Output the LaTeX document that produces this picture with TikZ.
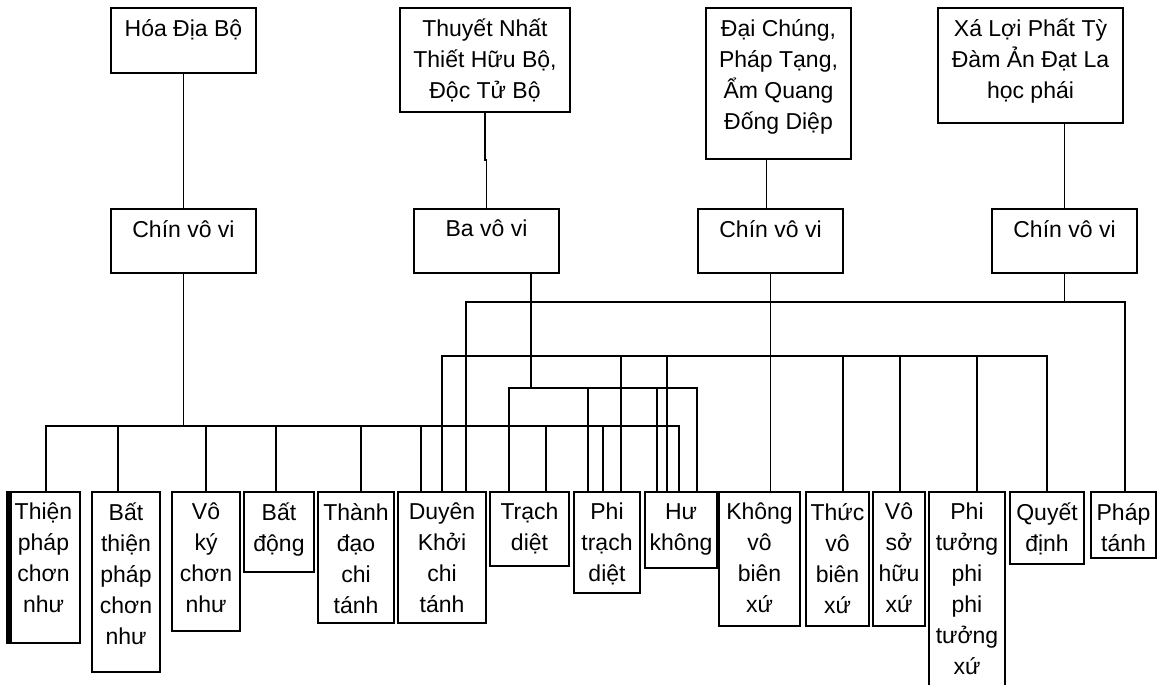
\documentclass[tikz,border=0pt]{standalone}
\usepackage{fontspec}
\setmainfont{Liberation Sans}
\begin{document}
\begin{tikzpicture}[
    x=1pt, y=-1pt,
    every node/.style={font=\fontsize{23}{31}\selectfont},
    box/.style={draw, line width=1.5pt, anchor=north west, inner sep=0pt, outer sep=0pt},
    txt/.style={anchor=north, align=center, inner sep=0pt, yshift=-11pt},
    link/.style={line width=1.5pt}
]
\useasboundingbox (0,0) rectangle (1159,685);
\clip (0,0) rectangle (1159,685);

% Schools
\node[box, minimum width=145pt, minimum height=65pt] (hoa) at (111,8) {};
\node[txt] (hoa-t) at (hoa.north) {Hóa Địa Bộ};
\node[box, minimum width=170pt, minimum height=104pt] (thuyet) at (400,8) {};
\node[txt] (thuyet-t) at (thuyet.north) {Thuyết Nhất\\Thiết Hữu Bộ,\\Độc Tử Bộ};
\node[box, minimum width=145pt, minimum height=151pt] (daichung) at (706,8) {};
\node[txt] (daichung-t) at (daichung.north) {Đại Chúng,\\Pháp Tạng,\\Ẩm Quang\\Đống Diệp};
\node[box, minimum width=185pt, minimum height=115pt] (xaloi) at (938,8) {};
\node[txt] (xaloi-t) at (xaloi.north) {Xá Lợi Phất Tỳ\\Đàm Ản Đạt La\\học phái};

% Counts
\node[box, minimum width=145pt, minimum height=64pt] (chin1) at (111,209) {};
\node[txt] (chin1-t) at (chin1.north) {Chín vô vi};
\node[box, minimum width=145pt, minimum height=64pt] (bavovi) at (414,209) {};
\node[txt] (bavovi-t) at (bavovi.north) {Ba vô vi};
\node[box, minimum width=145pt, minimum height=64pt] (chin2) at (698,209) {};
\node[txt] (chin2-t) at (chin2.north) {Chín vô vi};
\node[box, minimum width=145pt, minimum height=64pt] (chin3) at (992,209) {};
\node[txt] (chin3-t) at (chin3.north) {Chín vô vi};

% Unconditioned dharmas
\node[box, minimum width=73pt, minimum height=151pt] (thien) at (7,492) {};
\node[txt] (thien-t) at (thien.north) {Thiện\\pháp\\chơn\\như};
\node[box, minimum width=68pt, minimum height=180pt] (batthien) at (92,492) {};
\node[txt] (batthien-t) at (batthien.north) {Bất\\thiện\\pháp\\chơn\\như};
\node[box, minimum width=68pt, minimum height=139pt] (voky) at (172,492) {};
\node[txt] (voky-t) at (voky.north) {Vô\\ký\\chơn\\như};
\node[box, minimum width=70pt, minimum height=80pt] (batdong) at (244,492) {};
\node[txt] (batdong-t) at (batdong.north) {Bất\\động};
\node[box, minimum width=76pt, minimum height=131pt] (thanhdao) at (318,492) {};
\node[txt] (thanhdao-t) at (thanhdao.north) {Thành\\đạo\\chi\\tánh};
\node[box, minimum width=88pt, minimum height=131pt] (duyenkhoi) at (398,492) {};
\node[txt] (duyenkhoi-t) at (duyenkhoi.north) {Duyên\\Khởi\\chi\\tánh};
\node[box, minimum width=79pt, minimum height=74pt] (trachdiet) at (490,492) {};
\node[txt] (trachdiet-t) at (trachdiet.north) {Trạch\\diệt};
\node[box, minimum width=66pt, minimum height=101pt] (phitrach) at (574,492) {};
\node[txt] (phitrach-t) at (phitrach.north) {Phi\\trạch\\diệt};
\node[box, minimum width=72pt, minimum height=76pt] (hukhong) at (645,492) {};
\node[txt] (hukhong-t) at (hukhong.north) {Hư\\không};
\node[box, minimum width=81pt, minimum height=134pt] (khongvobien) at (719,492) {};
\node[txt] (khongvobien-t) at (khongvobien.north) {Không\\vô\\biên\\xứ};
\node[box, minimum width=63pt, minimum height=134pt] (thucvobien) at (806,492) {};
\node[txt] (thucvobien-t) at (thucvobien.north) {Thức\\vô\\biên\\xứ};
\node[box, minimum width=52pt, minimum height=134pt] (vosohuu) at (873,492) {};
\node[txt] (vosohuu-t) at (vosohuu.north) {Vô\\sở\\hữu\\xứ};
\node[box, minimum width=76pt, minimum height=210pt] (phituong) at (929,492) {};
\node[txt] (phituong-t) at (phituong.north) {Phi\\tưởng\\phi\\phi\\tưởng\\xứ};
\node[box, minimum width=74pt, minimum height=72pt] (quyetdinh) at (1010,492) {};
\node[txt] (quyetdinh-t) at (quyetdinh.north) {Quyết\\định};
\node[box, minimum width=65pt, minimum height=66pt] (phaptanh) at (1091,492) {};
\node[txt] (phaptanh-t) at (phaptanh.north) {Pháp\\tánh};
\fill (thien.north west) rectangle ([xshift=5pt]thien.south west);

% Schools to counts
\coordinate (dc) at ([xshift=-12pt]daichung.south);
\draw[link] (hoa.south) -- (chin1.north);
\draw[link] (thuyet.south) -- ++(0,48) -| (bavovi.north);
\draw[link] (dc) -- (dc |- chin2.north);
\draw[link] (xaloi.south -| chin3.north) -- (chin3.north);

% Buses
\coordinate (busA) at (chin1.south |- 0,426);
\coordinate (busB) at (531,388);
\coordinate (busC) at (chin2.south |- 0,356);
\coordinate (busD) at (chin3.south |- 0,302);
\draw[link] (chin1.south) -- (busA);
\draw[link] (bavovi.south -| busB) -- (busB);
\draw[link] (chin2.south) -- (khongvobien.north -| chin2.south);
\draw[link] (chin3.south) -- (busD);

% Drops
\foreach \x/\bx in {46/thien, 118/batthien, 206/voky, 276/batdong, 361/thanhdao,
                    421/duyenkhoi, 546/trachdiet, 603/phitrach, 679/hukhong}
  \draw[link] (\bx.north -| \x,0) |- (busA);
\foreach \x/\bx in {509/trachdiet, 588/phitrach, 657/hukhong, 697/hukhong}
  \draw[link] (\bx.north -| \x,0) |- (busB);
\foreach \x/\bx in {442/duyenkhoi, 621/phitrach, 667/hukhong, 843/thucvobien,
                    900/vosohuu, 977/phituong, 1047/quyetdinh}
  \draw[link] (\bx.north -| \x,0) |- (busC);
\foreach \x/\bx in {466/duyenkhoi, 1125/phaptanh}
  \draw[link] (\bx.north -| \x,0) |- (busD);
\end{tikzpicture}
\end{document}
